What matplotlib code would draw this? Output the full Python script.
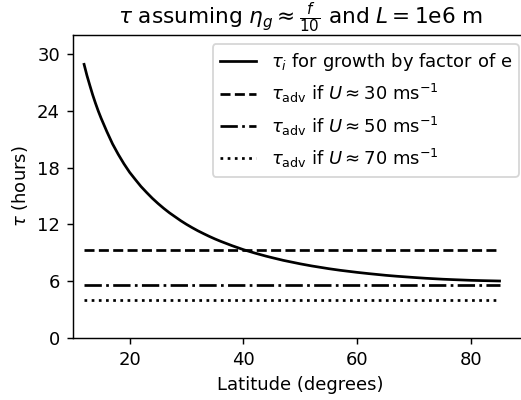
import matplotlib
matplotlib.use("Agg")
import matplotlib.pyplot as plt

# Data
lat = [12, 12.5, 13, 13.5, 14, 14.5, 15, 16, 17, 18, 19, 20, 21, 22, 23, 24, 25, 26, 27, 28, 29, 30,
       31, 32, 33, 34, 35, 36, 38, 40, 42, 44, 45, 47, 50, 52, 55, 57, 60, 62, 65, 67, 70, 72, 75,
       77, 80, 82, 85]
tau_i = [28.9, 27.73, 26.7, 25.7, 24.8, 23.96, 23.2, 21.8, 20.5, 19.4, 18.4, 17.5, 16.74, 16.0,
         15.36, 14.75, 14.2, 13.69, 13.22, 12.8, 12.38, 12.0, 11.65, 11.32, 11.02, 10.73, 10.46,
         10.21, 9.75, 9.33, 8.97, 8.64, 8.49, 8.20, 7.83, 7.61, 7.32, 7.15, 6.93, 6.80, 6.62, 6.52,
         6.39, 6.31, 6.21, 6.16, 6.09, 6.06, 6.02]
lat_span = [12, 85]
tau_adv_30 = 9.26
tau_adv_50 = 5.56
tau_adv_70 = 3.97
yticks = [0, 6, 12, 18, 24, 30]
xticks = [20, 40, 60, 80]

dpi = 130
fig = plt.figure(figsize=(521 / dpi, 400 / dpi), dpi=dpi)
ax = fig.add_axes([72.7 / 521, 62 / 400, (528 - 72.7) / 521, (365 - 62) / 400])

ax.plot(lat, tau_i, color="black", lw=1.5, ls="-", label=r"$\tau_i$ for growth by factor of e")
ax.plot(lat_span, [tau_adv_30] * 2, color="black", lw=1.5, ls="--",
        label=r"$\tau_{\rm adv}$ if $U \approx 30$ ms$^{-1}$")
ax.plot(lat_span, [tau_adv_50] * 2, color="black", lw=1.5, ls="-.",
        label=r"$\tau_{\rm adv}$ if $U \approx 50$ ms$^{-1}$")
ax.plot(lat_span, [tau_adv_70] * 2, color="black", lw=1.5, ls=":",
        label=r"$\tau_{\rm adv}$ if $U \approx 70$ ms$^{-1}$")

ax.set_xlim(10, 90)
ax.set_ylim(0, 32)
ax.set_xticks(xticks)
ax.set_yticks(yticks)
ax.set_xlabel("Latitude (degrees)")
ax.set_ylabel(r"$\tau$ (hours)")
ax.set_title(r"$\tau$ assuming $\eta_g \approx \frac{f}{10}$ and $L = 1$e6 m")
ax.legend(loc="upper right")

fig.savefig("out.png", dpi=dpi)
